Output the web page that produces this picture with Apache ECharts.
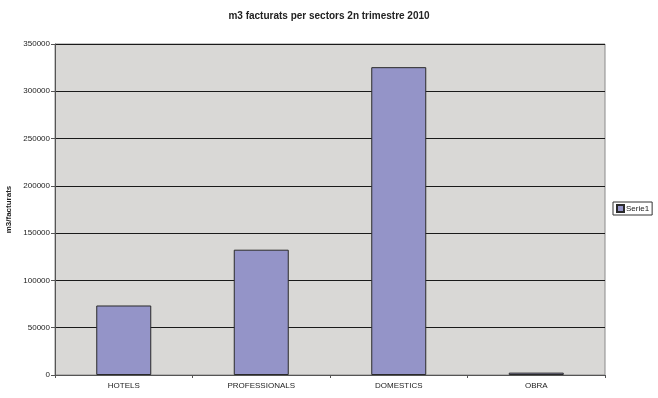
<!DOCTYPE html>
<html><head><meta charset="utf-8">
<script src="https://cdn.jsdelivr.net/npm/echarts@6/dist/echarts.min.js"></script>
<style>html,body{margin:0;padding:0;background:#fff}#c{width:658px;height:398px}</style>
</head><body><div id="c"></div>
<script>
const categories = ['HOTELS', 'PROFESSIONALS', 'DOMESTICS', 'OBRA'];
const serie1 = [73500, 132500, 325500, 2500];
const seriesName = 'Serie1';
const titleText = 'm3 facturats per sectors 2n trimestre 2010';
const yAxisName = 'm3/facturats';

const chart = echarts.init(document.getElementById('c'), null, {renderer: 'canvas'});
const font = 'Liberation Sans, Arial, sans-serif';
chart.setOption({
  animation: false,
  backgroundColor: '#ffffff',
  title: {
    text: titleText, left: 'center', top: 6,
    textStyle: {fontFamily: font, fontSize: 10, fontWeight: 'bold', color: '#222'}
  },
  legend: {
    data: [seriesName], left: 613, top: 202, orient: 'vertical',
    itemWidth: 7, itemHeight: 7, itemGap: 2, padding: [2, 3, 2, 3],
    borderColor: '#333', borderWidth: 1, backgroundColor: '#fff',
    textStyle: {fontFamily: font, fontSize: 8, color: '#222', padding: [0,0,0,-3]},
    icon: 'rect'
  },
  grid: {left: 55, right: 53, top: 44, bottom: 23, show: true, containLabel: false,
    outerBoundsMode: 'none',
    backgroundColor: '#d9d8d6', borderColor: '#8a8a8a', borderWidth: 1},
  xAxis: {
    type: 'category', data: categories,
    axisLine: {lineStyle: {color: '#555', width: 1}},
    axisTick: {show: true, length: 3, lineStyle: {color: '#555'}},
    axisLabel: {fontFamily: font, fontSize: 8, color: '#222', margin: 7},
    splitLine: {show: false}
  },
  yAxis: {
    type: 'value', min: 0, max: 350000, interval: 50000,
    name: yAxisName, nameLocation: 'middle', nameGap: 42, nameRotate: 90,
    nameTextStyle: {fontFamily: font, fontSize: 8, fontWeight: 'bold', color: '#222'},
    axisLine: {show: true, lineStyle: {color: '#555'}},
    axisTick: {show: true, length: 4, lineStyle: {color: '#555'}},
    axisLabel: {fontFamily: font, fontSize: 8, color: '#222', margin: 5,
      formatter: v => String(v)},
    splitLine: {show: true, lineStyle: {color: '#1a1a1a', width: 1}}
  },
  series: [{
    name: seriesName, type: 'bar', data: serie1,
    barWidth: '40%',
    itemStyle: {color: '#9494c8', borderColor: '#2a2a2a', borderWidth: 1}
  }]
});
</script></body></html>
